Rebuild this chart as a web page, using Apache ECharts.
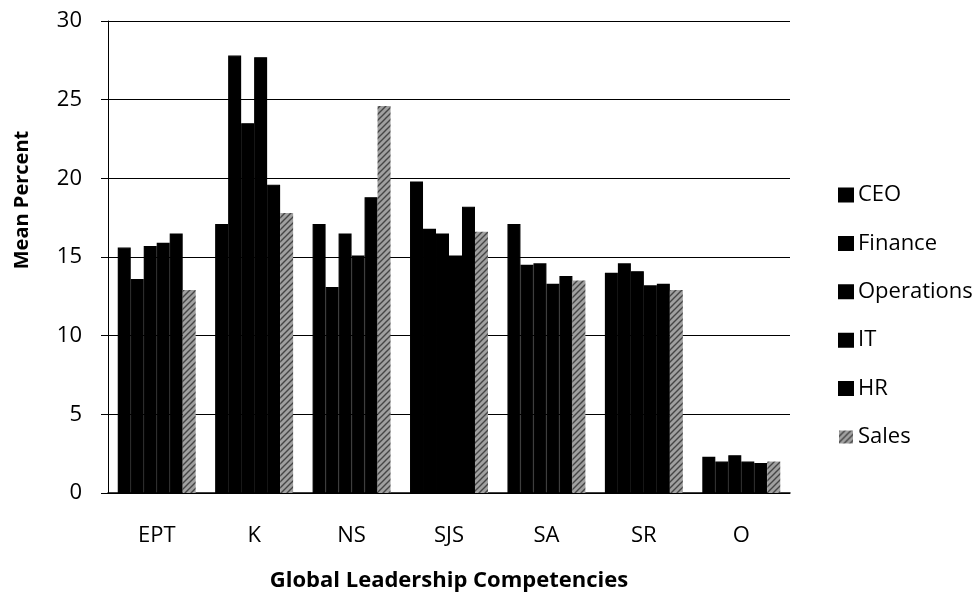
<!DOCTYPE html>
<html>
<head>
<meta charset="utf-8">
<script src="https://cdn.jsdelivr.net/npm/echarts@6/dist/echarts.min.js"></script>
<style>
  html, body { margin: 0; padding: 0; background: #fff; }
  #chart { width: 975px; height: 602px; }
</style>
</head>
<body>
<div id="chart"></div>
<script>
// data
const categories = ['EPT', 'K', 'NS', 'SJS', 'SA', 'SR', 'O'];
const seriesNames = ['CEO', 'Finance', 'Operations', 'IT', 'HR', 'Sales'];
const ceo        = [15.6, 17.1, 17.1, 19.8, 17.1, 14.0, 2.3];
const finance    = [13.6, 27.8, 13.1, 16.8, 14.5, 14.6, 2.0];
const operations = [15.7, 23.5, 16.5, 16.5, 14.6, 14.1, 2.4];
const it         = [15.9, 27.7, 15.1, 15.1, 13.3, 13.2, 2.0];
const hr         = [16.5, 19.6, 18.8, 18.2, 13.8, 13.3, 1.9];
const sales      = [12.9, 17.8, 24.6, 16.6, 13.5, 12.9, 2.0];
const yTicks = [0, 5, 10, 15, 20, 25, 30];

const font = '"Open Sans", "Noto Sans", sans-serif';

// hatched grey fill for Sales
function hatch() {
    const c = document.createElement('canvas');
    c.width = 6; c.height = 6;
    const g = c.getContext('2d');
    g.fillStyle = '#a0a0a0';
    g.fillRect(0, 0, 6, 6);
    g.strokeStyle = '#454545';
    g.lineWidth = 1.4;
    g.beginPath();
    g.moveTo(0, 6); g.lineTo(6, 0);
    g.moveTo(-3, 3); g.lineTo(3, -3);
    g.moveTo(3, 9); g.lineTo(9, 3);
    g.stroke();
    return { image: c, repeat: 'repeat' };
}

const allValues = [ceo, finance, operations, it, hr, sales];
const colors = ['#000', '#000', '#000', '#000', '#000', hatch()];

const chart = echarts.init(document.getElementById('chart'));
chart.setOption({
    animation: false,
    backgroundColor: '#fff',
    grid: { left: 108, right: 185, top: 21, bottom: 109 },
    legend: {
        orient: 'vertical',
        left: 833, top: 179,
        itemWidth: 14, itemHeight: 13, itemGap: 26.4,
        icon: 'rect',
        textStyle: { fontFamily: font, fontSize: 22, lineHeight: 22, color: '#000', padding: [0, 0, 0, 0] },
        data: seriesNames
    },
    xAxis: {
        type: 'category',
        data: categories,
        axisLine: { lineStyle: { color: '#000', width: 1.5 } },
        axisTick: { show: false },
        axisLabel: { fontFamily: font, fontSize: 22, lineHeight: 22, color: '#000', margin: 32 },
        name: 'Global Leadership Competencies',
        nameLocation: 'middle',
        nameGap: 77,
        nameTextStyle: { fontFamily: font, fontSize: 22, lineHeight: 22, fontWeight: 'bold', color: '#000' }
    },
    yAxis: {
        type: 'value',
        min: yTicks[0], max: yTicks[yTicks.length - 1], interval: 5,
        axisLine: { show: true, lineStyle: { color: '#000', width: 1 } },
        axisTick: { show: true, length: 7, lineStyle: { color: '#000' } },
        axisLabel: { fontFamily: font, fontSize: 22, color: '#000', margin: 26 },
        splitLine: { lineStyle: { color: '#000', width: 1 } }
    },
    graphic: [{
        type: 'text',
        x: 22, y: 200,
        rotation: Math.PI / 2,
        style: {
            text: 'Mean Percent', font: 'bold 20px ' + font, fill: '#000',
            align: 'center', verticalAlign: 'middle'
        }
    }],
    series: seriesNames.map((name, i) => ({
        name: name,
        type: 'bar',
        data: allValues[i],
        barGap: '0%',
        barCategoryGap: '20%',
        itemStyle: i < 5
            ? { color: colors[i], borderColor: '#000', borderWidth: 1.2 }
            : { color: colors[i] }
    }))
});
window.addEventListener('resize', () => chart.resize());
</script>
</body>
</html>
